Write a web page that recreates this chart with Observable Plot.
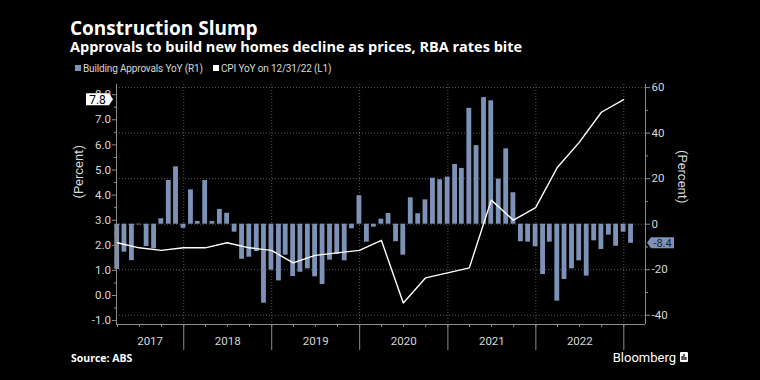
<!DOCTYPE html>
<html><head><meta charset="utf-8">
<script src="https://cdn.jsdelivr.net/npm/d3@7"></script>
<script src="https://cdn.jsdelivr.net/npm/@observablehq/plot@0.6"></script>
<style>
html,body{margin:0;padding:0;background:#000;}
body{width:760px;height:380px;overflow:hidden;}
svg{display:block;}
</style></head><body>
<svg id="head" width="760" height="76">
  <text x="70" y="34.5" font-family="'Open Sans'" font-weight="700" font-size="19" fill="#fff">Construction Slump</text>
  <text x="70" y="52" font-family="'Open Sans'" font-weight="700" font-size="14.5" fill="#fff">Approvals to build new homes decline as prices, RBA rates bite</text>
  <g id="legend"></g>
</svg>
<div id="chart"></div>
<svg id="foot" width="760" height="27" style="overflow:visible">
  <text x="71" y="9" font-family="'Open Sans'" font-weight="700" font-size="10.5" fill="#fff">Source: ABS</text>
  <text x="676" y="9" text-anchor="end" font-family="Roboto" font-size="13" fill="#fff">Bloomberg</text>
  <g transform="translate(680,-1)">
    <rect x="0" y="0" width="8" height="10" rx="1" fill="#fff"/>
    <rect x="1.5" y="4" width="1.2" height="4" fill="#000"/>
    <rect x="3.4" y="2" width="1.2" height="6" fill="#000"/>
    <rect x="5.3" y="5" width="1.2" height="3" fill="#000"/>
  </g>
</svg>
<script>
// ---- data ----
const approvalsStartMonth = "2017-03";
const approvalsYoY = [
  -19.9, -12.3, -16.0, -0.3, -9.8, -10.8, 2.4, 19.2, 25.2, -1.8,
  15.1, 1.2, 19.2, 1.2, 6.5, 4.8, -3.5, -15.4, -14.5, -12.0, -34.7, -20.2,
  -24.9, -13.6, -23.0, -21.1, -19.6, -23.1, -26.5, -15.8, -13.2, -16.1, -2.0, 12.5,
  -7.9, -1.3, 2.2, 4.7, -7.7, -13.6, 11.6, 4.6, 10.7, 20.2, 19.5, 20.7,
  26.2, 24.5, 50.9, 34.5, 55.6, 54.2, 19.8, 33.1, 13.8, -7.7, -7.9, -9.9,
  -22.1, -7.9, -33.8, -24.3, -19.6, -16.1, -22.8, -7.3, -11.1, -4.8, -9.7, -3.5,
  -8.4
];
const cpiQuarterEnds = [
  "2017-03-31","2017-06-30","2017-09-30","2017-12-31",
  "2018-03-31","2018-06-30","2018-09-30","2018-12-31",
  "2019-03-31","2019-06-30","2019-09-30","2019-12-31",
  "2020-03-31","2020-06-30","2020-09-30","2020-12-31",
  "2021-03-31","2021-06-30","2021-09-30","2021-12-31",
  "2022-03-31","2022-06-30","2022-09-30","2022-12-31"
];
const cpiYoY = [
  2.1, 1.9, 1.8, 1.9,
  1.9, 2.1, 1.9, 1.8,
  1.3, 1.6, 1.7, 1.8,
  2.2, -0.3, 0.7, 0.9,
  1.1, 3.8, 3.0, 3.5,
  5.1, 6.1, 7.3, 7.8
];
const leftTicks = [-1, 0, 1, 2, 3, 4, 5, 6, 7, 8];
const rightTicks = [-40, -20, 0, 20, 40, 60];
const yearLabels = ["2017", "2018", "2019", "2020", "2021", "2022"];
const legendLabels = ["Building Approvals YoY (R1)", "CPI YoY on 12/31/22 (L1)"];
const axisTitle = "(Percent)";

// ---- styling ----
const BAR = "#7d92b7";
const GRID = "#5a5a5a";
const AXIS = "#8c8c8c";
const TXT = "#d8d8d8";

// right axis (R1) mapped into left axis (L1) units
const R0 = 2.8406, RK = 0.0907;
const toLeft = r => R0 + RK * r;

const start = d3.utcParse("%Y-%m")(approvalsStartMonth);
const bars = approvalsYoY.map((v, i) => {
  const end = d3.utcDay.offset(d3.utcMonth.offset(start, i + 1), -1);
  return {date: end, v, x1: d3.utcDay.offset(end, -10), x2: d3.utcDay.offset(end, 10)};
});
const cpi = cpiQuarterEnds.map((s, i) => ({date: d3.utcParse("%Y-%m-%d")(s), v: cpiYoY[i]}));

const xDomain = [new Date(Date.UTC(2017, 2, 28)), new Date(Date.UTC(2023, 3, 1))];
const yDomain = [-1.155, 8.406];
const yearBounds = d3.utcYear.range(d3.utcYear.ceil(xDomain[0]), xDomain[1]);
const quarterTicks = d3.utcMonth.every(3).range(xDomain[0], xDomain[1]);
const yearLabelData = yearLabels.map(y => {
  const a = new Date(Date.UTC(+y, 0, 1)), b = new Date(Date.UTC(+y + 1, 0, 1));
  const lo = a < xDomain[0] ? xDomain[0] : a, hi = b > xDomain[1] ? xDomain[1] : b;
  return {label: y, mid: new Date((+lo + +hi) / 2)};
});
const leftMinor = leftTicks.slice(0, -1).map(t => t + 0.5);
const rightMinor = rightTicks.slice(0, -1).map(t => toLeft(t + 10));

// legend
(function () {
  const g = d3.select("#legend");
  const items = [{x: 75, fill: BAR}, {x: 213, fill: "#fff"}];
  legendLabels.forEach((t, i) => {
    g.append("rect").attr("x", items[i].x).attr("y", 65).attr("width", 6).attr("height", 6).attr("fill", items[i].fill);
    g.append("text").attr("x", items[i].x + 8).attr("y", 72).attr("font-family", "Roboto, sans-serif")
      .attr("font-size", 10).attr("letter-spacing", -0.15).attr("fill", TXT).text(t);
  });
})();

function valueTags(index, scales, values, dimensions) {
  const g = d3.create("svg:g");
  const left = dimensions.marginLeft, right = dimensions.width - dimensions.marginRight;
  // left tag (last CPI)
  const lv = cpiYoY[cpiYoY.length - 1];
  const ly = scales.y(lv);
  const lx2 = left - 3, lx1 = left - 30, h = 6;
  g.append("path")
    .attr("d", `M${lx1},${ly - h}H${lx2 - 4}L${lx2},${ly}L${lx2 - 4},${ly + h}H${lx1}Z`)
    .attr("fill", "#fff");
  g.append("text").attr("x", (lx1 + lx2 - 4) / 2).attr("y", ly).attr("dy", "0.36em")
    .attr("text-anchor", "middle").attr("font-size", 12).attr("fill", "#000").text(lv.toFixed(1));
  // right tag (last approvals)
  const rv = approvalsYoY[approvalsYoY.length - 1];
  const ry = scales.y(toLeft(rv));
  const rx1 = right + 2, rx2 = right + 29, h2 = 5.5;
  g.append("path")
    .attr("d", `M${rx1},${ry}L${rx1 + 4},${ry - h2}H${rx2}V${ry + h2}H${rx1 + 4}Z`)
    .attr("fill", BAR);
  g.append("text").attr("x", (rx1 + 4 + rx2) / 2).attr("y", ry).attr("dy", "0.36em")
    .attr("text-anchor", "middle").attr("font-size", 11).attr("fill", "#1a2130").text(rv.toFixed(1));
  return g.node();
}

const chart = Plot.plot({
  width: 760, height: 277,
  marginLeft: 116, marginRight: 115, marginTop: 8, marginBottom: 29,
  x: {type: "utc", domain: xDomain},
  y: {domain: yDomain},
  style: {background: "#000", color: TXT, fontFamily: "Roboto, sans-serif", fontSize: "11.5px", overflow: "visible"},
  marks: [
    Plot.ruleY(rightTicks.map(toLeft), {stroke: GRID, strokeDasharray: "1,2"}),
    Plot.ruleX(yearBounds, {stroke: GRID, strokeDasharray: "1,2"}),
    Plot.rectY(bars, {x1: "x1", x2: "x2", y1: () => toLeft(0), y2: d => toLeft(d.v), fill: BAR}),
    Plot.line(cpi, {x: "date", y: "v", stroke: "#fff", strokeWidth: 1.4}),
    Plot.ruleX([xDomain[0], xDomain[1]], {stroke: AXIS}),
    Plot.ruleY([yDomain[0]], {stroke: AXIS}),
    Plot.axisY({anchor: "left", ticks: leftTicks, tickSize: 4, tickPadding: 1.5, tickFormat: d => d.toFixed(1), label: null, stroke: AXIS, fill: TXT}),
    Plot.axisY({anchor: "left", ticks: leftMinor, tickSize: 2, tickFormat: () => "", label: null, stroke: AXIS}),
    Plot.axisY({anchor: "right", ticks: rightTicks.map(toLeft), tickSize: 4, tickPadding: 2, tickFormat: d => String(Math.round((d - R0) / RK)), label: null, stroke: AXIS, fill: TXT}),
    Plot.axisY({anchor: "right", ticks: rightMinor, tickSize: 2, tickFormat: () => "", label: null, stroke: AXIS}),
    Plot.axisX({ticks: quarterTicks, tickSize: 3, tickFormat: () => "", label: null, stroke: AXIS}),
    Plot.axisX({ticks: yearBounds, tickSize: 26, tickFormat: () => "", label: null, stroke: AXIS}),
    Plot.text(yearLabelData, {x: "mid", text: "label", frameAnchor: "bottom", dy: 20, fill: TXT, fontSize: 11.5}),
    Plot.text([axisTitle], {frameAnchor: "left", dx: -38, dy: -6, rotate: -90, fontSize: 13, fill: TXT}),
    Plot.text([axisTitle], {frameAnchor: "right", dx: 37, dy: -1, rotate: 90, fontSize: 13, fill: TXT}),
    valueTags
  ]
});
document.getElementById("chart").appendChild(chart);
</script>
</body></html>
